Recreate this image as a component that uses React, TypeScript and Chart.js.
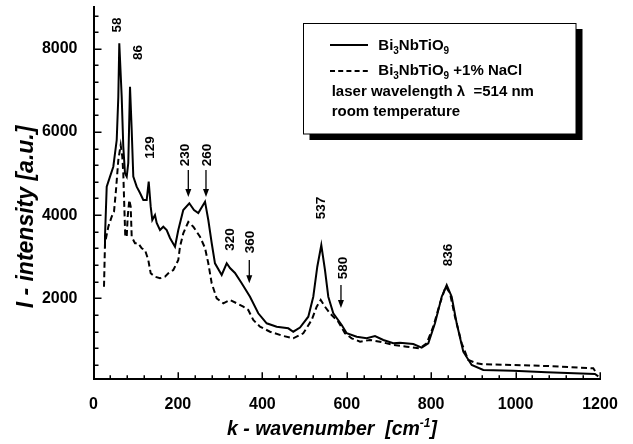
import React, { useEffect, useRef } from 'react';
import { Chart, registerables } from 'chart.js';

Chart.register(...registerables);

// ---- data ----
const solidX = [24.9, 27.2, 31.3, 39.1, 46.9, 55.0, 58.8, 61.1, 66.8, 70.6, 74.6, 78.7, 82.4, 86.5, 90.5, 94.3, 102.3, 110.2, 118, 126, 130.8, 135.5, 139.3, 145.7, 149.7, 157.5, 165.4, 173.4, 181.2, 193.1, 200.9, 212.7, 227, 238.1, 248.3, 264.2, 272, 280, 287.8, 303.7, 315.6, 323.4, 335.2, 351.1, 370.8, 390.4, 410.3, 434, 461.5, 473.3, 489.2, 508.9, 520.7, 530.2, 539.7, 548.4, 556.3, 568.1, 588, 599.9, 623.6, 647.2, 666.9, 686.6, 710.3, 726.1, 757.6, 777.5, 793.2, 809, 825, 836.8, 848.6, 860.5, 876.1, 896, 923.5, 994.5, 1073.7, 1188, 1196];
const solidY = [3240, 3481, 4684, 4925, 5165, 5807, 6849, 8134, 6849, 5646, 5006, 4925, 5254, 7090, 6048, 4925, 4684, 4532, 4364, 4364, 4804, 4203, 3883, 4003, 3811, 3642, 3722, 3642, 3450, 3240, 3642, 4123, 4285, 4123, 4051, 4323, 3883, 3329, 2841, 2559, 2841, 2728, 2608, 2360, 2037, 1638, 1397, 1316, 1277, 1195, 1296, 1556, 2037, 2759, 3281, 2680, 2037, 1638, 1356, 1157, 1075, 1036, 1092, 996, 916, 931, 899, 810, 916, 1397, 2037, 2319, 2037, 1397, 714, 394, 274, 257, 218, 178, 120];

const dashX = [24.9, 27.2, 35.1, 43.1, 48.6, 53.3, 58.8, 64.4, 68.2, 70.6, 73, 75.3, 78.7, 81, 84.8, 88.1, 90.5, 98.3, 106.1, 114.2, 122, 129.8, 135.5, 145.7, 157.5, 169.4, 177.2, 189.1, 200.9, 204.9, 212.7, 224.6, 236.4, 252.3, 264.2, 272, 280, 291.9, 307.5, 323.4, 339.3, 354.9, 366.7, 378.6, 394.5, 418.2, 449.7, 473.3, 497, 516.9, 528.8, 538.3, 548.4, 560.3, 580, 595.8, 611.7, 631.5, 655, 678.7, 710.3, 742, 773.5, 789.4, 805, 820.9, 834.4, 844.6, 856.4, 872.3, 887.9, 907.8, 923.5, 994.5, 1073.7, 1184, 1192];
const dashY = [2278, 3322, 3721, 3962, 4082, 4605, 5326, 5687, 5406, 5006, 4203, 3481, 3481, 3962, 4364, 4203, 3481, 3322, 3322, 3202, 3161, 2920, 2600, 2519, 2480, 2519, 2600, 2680, 2920, 3240, 3563, 3835, 3722, 3481, 3209, 2841, 2360, 1999, 1879, 1958, 1879, 1797, 1717, 1477, 1316, 1195, 1092, 1036, 1157, 1477, 1797, 1958, 1797, 1638, 1436, 1157, 1036, 955, 996, 955, 875, 834, 796, 916, 1316, 1879, 2278, 2119, 1556, 916, 514, 435, 411, 394, 370, 315, 194];

const xTickLabels = [0, 200, 400, 600, 800, 1000, 1200];
const yTickLabels = [2000, 4000, 6000, 8000];
const xMinorStep = 40;
const xMajorStep = 200;
const yMinorStep = 400;
const yMajorStep = 2000;

const peakNames = ['58', '86', '129', '230', '260', '320', '360', '537', '580', '836'];
const peakLabelX = [57, 106.1, 133.9, 216.8, 269.6, 323.4, 370.8, 538.5, 591.8, 840.6];
const peakLabelY = [8575, 7913, 5627, 5447, 5447, 3414, 3353, 4171, 2728, 3041];

const arrowX = [224.6, 266.5, 369.1, 586.3];
const arrowTop = [5086, 5086, 2921, 2319];
const arrowBottom = [4436, 4436, 2360, 1765];

const legendLines = ['laser wavelength \u03bb  =514 nm', 'room temperature'];

function fontAvailable(name: string): boolean {
  const c = document.createElement('canvas').getContext('2d');
  if (!c) return false;
  const s = 'mmmmmWWW0123456789lli';
  c.font = 'bold 40px monospace';
  const a = c.measureText(s).width;
  c.font = `bold 40px "${name}", monospace`;
  const b = c.measureText(s).width;
  return Math.abs(a - b) > 0.5;
}

export default function App() {
  const ref = useRef<HTMLCanvasElement>(null);

  useEffect(() => {
    document.body.style.margin = '0';
    const canvas = ref.current;
    if (!canvas) return;
    const SANS = '"Liberation Sans", Arial, Helvetica, sans-serif';
    const narrow = fontAvailable('Liberation Sans Narrow');
    const NARROW = narrow ? '"Liberation Sans Narrow", "Liberation Sans", Arial, sans-serif' : SANS;
    const tickFont: any = narrow
      ? { family: NARROW, size: 18, weight: 'bold' }
      : { family: SANS, size: 16, weight: 'bold' };
    const peakFont = narrow ? `bold 16px ${NARROW}` : `bold 13.5px ${SANS}`;

    const drawRich = (ctx: CanvasRenderingContext2D, x: number, base: number, parts: [string, string, number][]) => {
      let cx = x;
      for (const [t, f, dy] of parts) {
        ctx.font = f;
        ctx.fillText(t, cx, base + dy);
        cx += ctx.measureText(t).width;
      }
      return cx;
    };
    const richWidth = (ctx: CanvasRenderingContext2D, parts: [string, string, number][]) => {
      let w = 0;
      for (const [t, f] of parts) {
        ctx.font = f;
        w += ctx.measureText(t).width;
      }
      return w;
    };

    const decor = {
      id: 'decor',
      afterDraw(chart: any) {
        const { ctx, chartArea } = chart;
        const xs = chart.scales.x;
        const ys = chart.scales.y;
        ctx.save();
        ctx.strokeStyle = '#000';
        ctx.fillStyle = '#000';

        // inward tick marks
        ctx.lineWidth = 1.5;
        ctx.beginPath();
        for (let v = xs.min; v <= xs.max + 0.01; v += xMinorStep) {
          if (v <= 0) continue;
          const px = Math.round(xs.getPixelForValue(v)) + 0.25;
          const len = Math.abs(v % xMajorStep) < 0.01 ? 7 : 4;
          ctx.moveTo(px, chartArea.bottom);
          ctx.lineTo(px, chartArea.bottom - len);
        }
        for (let v = yMinorStep; v <= ys.max; v += yMinorStep) {
          const py = Math.round(ys.getPixelForValue(v)) + 0.25;
          const len = v % yMajorStep === 0 ? 8 : 5;
          ctx.moveTo(chartArea.left, py);
          ctx.lineTo(chartArea.left + len, py);
        }
        ctx.stroke();

        // peak labels
        ctx.font = peakFont;
        ctx.textAlign = 'center';
        ctx.textBaseline = 'middle';
        for (let i = 0; i < peakNames.length; i++) {
          const px = xs.getPixelForValue(peakLabelX[i]);
          const py = ys.getPixelForValue(peakLabelY[i]);
          ctx.save();
          ctx.translate(px, py);
          ctx.rotate(-Math.PI / 2);
          ctx.fillText(peakNames[i], 0, 0);
          ctx.restore();
        }

        // arrows
        ctx.lineWidth = 1.3;
        for (let i = 0; i < arrowX.length; i++) {
          const px = xs.getPixelForValue(arrowX[i]);
          const y1 = ys.getPixelForValue(arrowTop[i]);
          const y2 = ys.getPixelForValue(arrowBottom[i]);
          ctx.beginPath();
          ctx.moveTo(px, y1);
          ctx.lineTo(px, y2 - 5);
          ctx.stroke();
          ctx.beginPath();
          ctx.moveTo(px - 3, y2 - 8);
          ctx.lineTo(px + 3, y2 - 8);
          ctx.lineTo(px, y2);
          ctx.closePath();
          ctx.fill();
        }

        // legend box with shadow
        ctx.fillStyle = '#000';
        ctx.fillRect(309.5, 29, 273, 111);
        ctx.fillStyle = '#fff';
        ctx.fillRect(303.5, 23.5, 272.5, 110.5);
        ctx.strokeStyle = '#000';
        ctx.lineWidth = 1;
        ctx.strokeRect(303.5, 23.5, 272.5, 110.5);

        ctx.lineWidth = 2;
        ctx.beginPath();
        ctx.moveTo(330, 45);
        ctx.lineTo(368, 45);
        ctx.stroke();
        ctx.setLineDash([5, 3.2]);
        ctx.beginPath();
        ctx.moveTo(330, 71);
        ctx.lineTo(368, 71);
        ctx.stroke();
        ctx.setLineDash([]);

        ctx.fillStyle = '#000';
        ctx.textAlign = 'left';
        ctx.textBaseline = 'alphabetic';
        const F = `bold 15px ${SANS}`;
        const S = `bold 10px ${SANS}`;
        drawRich(ctx, 378.3, 49.5, [['Bi', F, 0], ['3', S, 4], ['NbTiO', F, 0], ['9', S, 4]]);
        drawRich(ctx, 378.3, 75, [['Bi', F, 0], ['3', S, 4], ['NbTiO', F, 0], ['9', S, 4], [' +1% NaCl', F, 0]]);
        ctx.font = F;
        ctx.fillText(legendLines[0], 331.7, 96);
        ctx.fillText(legendLines[1], 331.7, 116);

        // axis titles
        ctx.save();
        ctx.translate(27, 217);
        ctx.rotate(-Math.PI / 2);
        ctx.font = `italic bold 23px ${SANS}`;
        ctx.textAlign = 'center';
        ctx.textBaseline = 'middle';
        ctx.fillText('I - intensity [a.u.]', 0, 0);
        ctx.restore();

        const T = `italic bold 19.5px ${SANS}`;
        const TS = `italic bold 12px ${SANS}`;
        const parts: [string, string, number][] = [['k - wavenumber  [cm', T, 0], ['-1', TS, -8], [']', T, 0]];
        ctx.textAlign = 'left';
        ctx.textBaseline = 'alphabetic';
        const w = richWidth(ctx, parts);
        drawRich(ctx, 332 - w / 2, 435, parts);

        ctx.restore();
      },
    };

    const chart = new Chart(canvas, {
      type: 'line',
      data: {
        datasets: [
          {
            label: 'Bi3NbTiO9',
            data: solidX.map((x, i) => ({ x, y: solidY[i] })),
            borderColor: '#000',
            borderWidth: 2,
            pointRadius: 0,
            fill: false,
            tension: 0,
          },
          {
            label: 'Bi3NbTiO9 +1% NaCl',
            data: dashX.map((x, i) => ({ x, y: dashY[i] })),
            borderColor: '#000',
            borderWidth: 2,
            borderDash: [6, 3.5],
            pointRadius: 0,
            fill: false,
            tension: 0,
          },
        ],
      },
      options: {
        responsive: false,
        animation: false,
        devicePixelRatio: 1,
        events: [],
        layout: { padding: { left: 0, right: 33, top: 7.3, bottom: 0 } },
        plugins: { legend: { display: false }, tooltip: { enabled: false } },
        scales: {
          x: {
            type: 'linear',
            min: 0,
            max: 1200,
            grid: { display: false },
            border: { display: true, color: '#000', width: 2 },
            ticks: {
              color: '#000',
              font: tickFont,
              padding: 8,
              maxRotation: 0,
              autoSkip: false,
              callback: (v: any) => String(v),
            },
            afterBuildTicks: (s: any) => {
              s.ticks = xTickLabels.map((v) => ({ value: v }));
            },
            afterFit: (s: any) => {
              s.height = 64.7;
              s.paddingLeft = 0;
              s.paddingRight = 0;
            },
          },
          y: {
            type: 'linear',
            min: 50,
            max: 9000,
            grid: { display: false },
            border: { display: true, color: '#000', width: 2 },
            ticks: {
              color: '#000',
              font: tickFont,
              padding: 8,
              autoSkip: false,
              callback: (v: any) => String(v),
            },
            afterBuildTicks: (s: any) => {
              s.ticks = yTickLabels.map((v) => ({ value: v }));
            },
            afterFit: (s: any) => {
              s.width = 93.5;
              s.paddingTop = 0;
              s.paddingBottom = 0;
            },
          },
        },
      } as any,
      plugins: [decor],
    });

    return () => chart.destroy();
  }, []);

  return <canvas ref={ref} width={633} height={444} style={{ display: 'block', width: '633px', height: '444px' }} />;
}
